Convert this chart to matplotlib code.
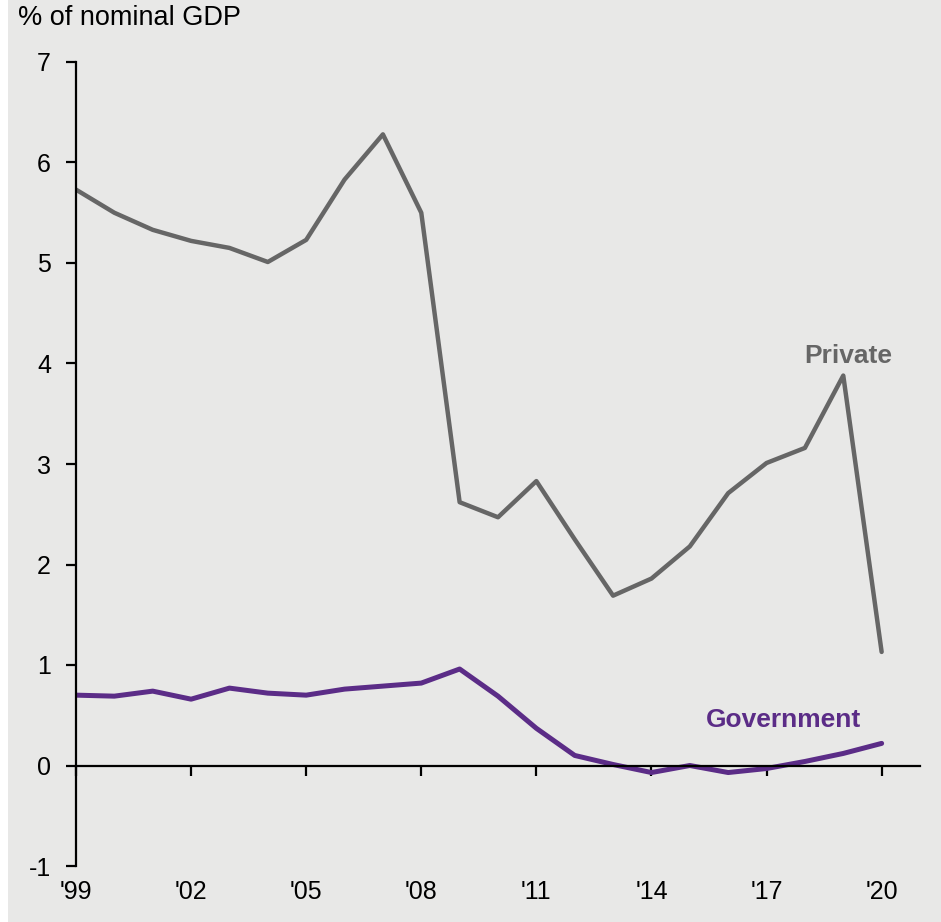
import matplotlib
matplotlib.use("Agg")
import matplotlib.pyplot as plt
from matplotlib.patches import Rectangle

plt.rcParams['font.family'] = ['Liberation Sans', 'DejaVu Sans']

years = list(range(1999, 2021))
private = [5.73, 5.50, 5.33, 5.22, 5.15, 5.01, 5.23, 5.83, 6.28, 5.50, 2.62,
           2.47, 2.83, 2.25, 1.69, 1.86, 2.18, 2.71, 3.01, 3.16, 3.88, 1.13]
government = [0.70, 0.69, 0.74, 0.66, 0.77, 0.72, 0.70, 0.76, 0.79, 0.82, 0.96,
              0.69, 0.37, 0.10, 0.01, -0.07, 0.00, -0.07, -0.03, 0.04, 0.12, 0.22]
xticks = [1999, 2002, 2005, 2008, 2011, 2014, 2017, 2020]
xticklabels = ["'99", "'02", "'05", "'08", "'11", "'14", "'17", "'20"]
yticks = [-1, 0, 1, 2, 3, 4, 5, 6, 7]

bg = '#e8e8e7'
gray = '#666666'
purple = '#5b2c87'

W, H = 941, 922
fig = plt.figure(figsize=(W / 100, H / 100), dpi=100, facecolor=bg)
# white margin strip along the left edge
fig.patches.append(Rectangle((0, 0), 8 / W, 1, transform=fig.transFigure,
                             facecolor='white', edgecolor='none', zorder=-1))

ax = fig.add_axes([76 / W, (H - 866) / H, (920 - 76) / W, (866 - 62) / H])
ax.set_facecolor(bg)

ax.plot(years, private, color=gray, lw=3.2, solid_capstyle='round', solid_joinstyle='round')
ax.plot(years, government, color=purple, lw=3.6, solid_capstyle='round', solid_joinstyle='round')

ax.set_xlim(1999, 2021)
ax.set_ylim(-1, 7)

for s in ['top', 'right']:
    ax.spines[s].set_visible(False)
ax.spines['left'].set_linewidth(1.6)
ax.spines['bottom'].set_linewidth(1.6)
ax.spines['bottom'].set_position(('data', 0))

ax.set_yticks(yticks)
ax.set_yticklabels([str(v) for v in yticks])
ax.tick_params(axis='y', direction='out', length=7, width=1.6, labelsize=18, pad=11, colors='black')
ax.set_xticks(xticks)
ax.tick_params(axis='x', direction='out', length=7, width=1.6, labelbottom=False)

sec = ax.secondary_xaxis(0)
sec.set_xticks(xticks)
sec.set_xticklabels(xticklabels)
sec.spines['bottom'].set_visible(False)
sec.tick_params(axis='x', length=0, labelsize=18, pad=10)

fig.text(18 / W, 1 - 18 / H, '% of nominal GDP', fontsize=19.5, ha='left', va='center')

ax.text(2019.13, 4.07, 'Private', color=gray, fontsize=19, fontweight='bold', ha='center', va='center')
ax.text(2017.43, 0.45, 'Government', color=purple, fontsize=19, fontweight='bold', ha='center', va='center')

fig.savefig('out.png', dpi=100, facecolor=bg)
